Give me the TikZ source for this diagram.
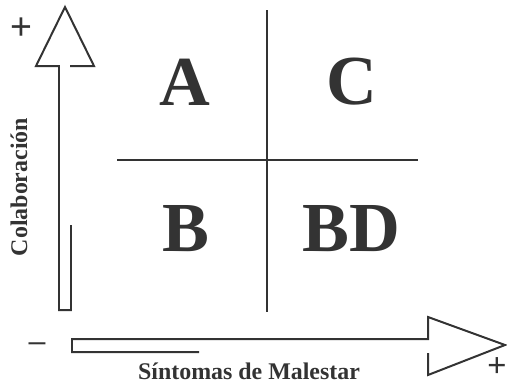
\documentclass[tikz,border=0pt]{standalone}
\usepackage{fontspec}
\setmainfont{Liberation Serif}
\newfontfamily\signfont{Liberation Sans}
\usepackage{xcolor}
\definecolor{ink}{HTML}{333333}
\usetikzlibrary{positioning}

\begin{document}
\begin{tikzpicture}[
    x=0.03cm, y=-0.03cm,
    quadlabel/.style={text=ink, font=\fontsize{60}{60}\selectfont\bfseries, inner sep=0pt},
    axislabel/.style={text=ink, font=\fontsize{20.4}{22}\selectfont\bfseries, inner sep=0pt},
    signlabel/.style={text=ink, font=\fontsize{26}{26}\selectfont\signfont, inner sep=0pt},
    divider/.style={draw=ink, line width=0.9pt},
    bigarrow/.style={draw=ink, line width=1.7pt, line join=miter}
]
\useasboundingbox (0,0) rectangle (507,384);

%% ===== QUADRANT DIVIDERS =====
\coordinate (vtop) at (267,10);
\coordinate (vbot) at (267,312);
\coordinate (hleft) at (117,160);
\coordinate (hright) at (418,160);
\draw[divider] (vtop) -- (vbot);
\draw[divider] (hleft) -- (hright);

%% ===== QUADRANT LETTERS =====
\node[quadlabel] (qa)  at (185,82)  {A};
\node[quadlabel] (qc)  at (352,82)  {C};
\node[quadlabel] (qb)  at (186,229) {B};
\node[quadlabel] (qbd) at (351,229) {BD};

%% ===== VERTICAL AXIS ARROW =====
\draw[bigarrow] (71,225) -- (71,310) -- (59,310) -- (59,66) -- (36,66)
    -- (65,7) -- (94,66) -- (70,66);

%% ===== HORIZONTAL AXIS ARROW =====
\draw[bigarrow] (199,352) -- (72,352) -- (72,339) -- (428,339) -- (428,317)
    -- (505,345) -- (428,375) -- (428,353);

%% ===== AXIS LABELS =====
\node[axislabel, rotate=90] (ylab) at (19,187) {Colaboración};
\node[axislabel] (xlab) at (249,371) {Síntomas de Malestar};

\node[signlabel, font=\fontsize{32}{32}\selectfont\signfont] (yplus) at (21,29) {+};
\node[signlabel] (xminus) at (37,347) {–};
\node[signlabel, font=\fontsize{28}{28}\selectfont\signfont] (xplus) at (497,367) {+};

\end{tikzpicture}
\end{document}
